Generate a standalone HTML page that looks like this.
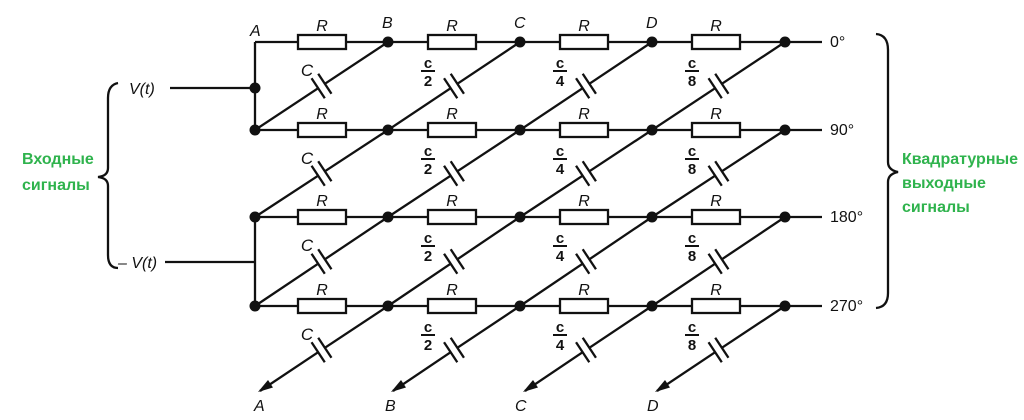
<!DOCTYPE html>
<html><head><meta charset="utf-8"><style>
html,body{margin:0;padding:0;background:#fff;}
svg{display:block}
text{font-family:"Liberation Sans",sans-serif;}
.l{font-style:italic;font-size:16px;fill:#111;}
.g{font-weight:bold;font-size:16px;fill:#2fb34d;}
</style></head><body>
<svg id="s" width="1024" height="420" viewBox="0 0 1024 420" xmlns="http://www.w3.org/2000/svg">
<g id="sh" stroke="#111" stroke-width="2.3" fill="none"></g>
<g id="lab">
<text class="l" x="250" y="36">A</text>
<text class="l" x="382" y="28">B</text>
<text class="l" x="514" y="28">C</text>
<text class="l" x="646" y="28">D</text>
<text class="l" x="254" y="411">A</text>
<text class="l" x="385" y="411">B</text>
<text class="l" x="515" y="411">C</text>
<text class="l" x="647" y="411">D</text>
<text class="l" x="129" y="94">V(t)</text>
<text class="l" x="118" y="268">– V(t)</text>
<text class="l" style="font-style:normal" x="830" y="47">0°</text>
<text class="l" style="font-style:normal" x="830" y="135">90°</text>
<text class="l" style="font-style:normal" x="830" y="222">180°</text>
<text class="l" style="font-style:normal" x="830" y="311">270°</text>
<text class="g" x="22" y="164">Входные</text>
<text class="g" x="22" y="190">сигналы</text>
<text class="g" x="902" y="164">Квадратурные</text>
<text class="g" x="902" y="188">выходные</text>
<text class="g" x="902" y="212">сигналы</text>
</g>
</svg>
<script>
const NS="http://www.w3.org/2000/svg";
const sh=document.getElementById('sh'),lab=document.getElementById('lab');
function el(t,a,p){const e=document.createElementNS(NS,t);for(const k in a)e.setAttribute(k,a[k]);(p||sh).appendChild(e);return e;}
function ln(x1,y1,x2,y2){el('line',{x1,y1,x2,y2});}
function dot(x,y){el('circle',{cx:x,cy:y,r:5.5,fill:'#111',stroke:'none'});}
const X=[255,388,520,652,785],Y=[42,130,217,306,394];
const RX=[298,428,560,692];
for(let r=0;r<4;r++){
  const y=Y[r];
  let px=X[0];
  for(let i=0;i<4;i++){ln(px,y,RX[i],y);el('rect',{x:RX[i],y:y-7,width:48,height:14,fill:'#fff'});px=RX[i]+48;}
  ln(px,y,822,y);
  for(let i=1;i<5;i++)dot(X[i],y);
  if(r>0)dot(X[0],y);
  for(let i=0;i<4;i++){const t=el('text',{class:'l',x:RX[i]+24,y:y-11,'text-anchor':'middle'},lab);t.textContent='R';}
}
ln(255,42,255,130);dot(255,88);ln(170,88,255,88);
ln(255,217,255,306);ln(165,262,255,262);
const ux=133/159.5,uy=-88/159.5,nx=0.552,ny=0.834;
for(let r=0;r<4;r++){
  for(let i=0;i<4;i++){
    const x1=X[i],y1=Y[r+1],x2=X[i+1],y2=Y[r];
    const mx=(x1+x2)/2,my=(y1+y2)/2,g=4,h=12;
    const ax=mx-ux*g,ay=my-uy*g,bx=mx+ux*g,by=my+uy*g;
    let sx=x1,sy=y1;
    if(r==3){sx=x1+5;sy=y1-3;}
    ln(sx,sy,ax,ay);ln(bx,by,x2,y2);
    ln(ax-nx*h,ay-ny*h,ax+nx*h,ay+ny*h);
    ln(bx-nx*h,by-ny*h,bx+nx*h,by+ny*h);
    if(r==3){
      const tx=x1+3,ty=y1-2;
      el('path',{d:`M${tx} ${ty} L${tx+ux*15+nx*4.5} ${ty+uy*15+ny*4.5} L${tx+ux*15-nx*4.5} ${ty+uy*15-ny*4.5} Z`,fill:'#111',stroke:'none'});
    }
    const cx=[307,428,560,692][i],cy=Y[r]+28;
    if(i==0){const t=el('text',{class:'l',x:cx,y:cy+6,'text-anchor':'middle',style:'font-size:17px'},lab);t.textContent='C';}
    else{
      const t1=el('text',{class:'l',x:cx,y:cy-2,'text-anchor':'middle',style:'font-style:normal;font-size:15px;font-weight:bold'},lab);t1.textContent='c';
      el('line',{x1:cx-7,y1:cy+1,x2:cx+7,y2:cy+1,stroke:'#111','stroke-width':2},lab);
      const t2=el('text',{class:'l',x:cx,y:cy+16,'text-anchor':'middle',style:'font-style:normal;font-size:15px;font-weight:bold'},lab);t2.textContent=String(2**i);
    }
  }
}
el('path',{d:'M118 83 Q108 85 108 98 L108 168 Q108 176 98 177 Q108 178 108 186 L108 255 Q108 268 118 268'});
el('path',{d:'M876 34 Q888 35 888 50 L888 162 Q888 170 898 172 Q888 174 888 182 L888 293 Q888 307 876 308'});
</script>
</body></html>
